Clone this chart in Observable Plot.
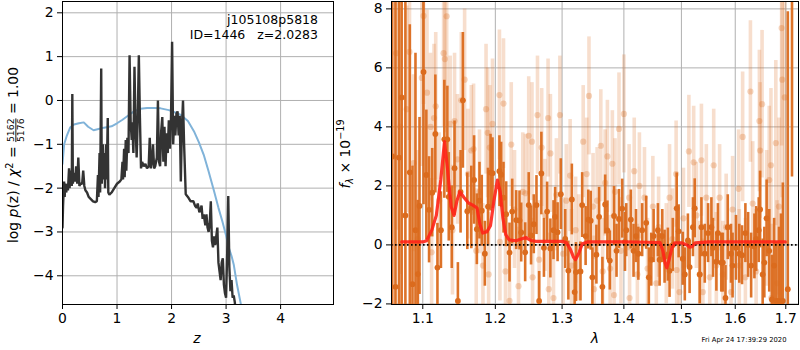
<!DOCTYPE html>
<html><head><meta charset="utf-8">
<script src="https://cdn.jsdelivr.net/npm/d3@7"></script>
<script src="https://cdn.jsdelivr.net/npm/@observablehq/plot@0.6"></script>
<style>
body{margin:0;background:#fff;}
#wrap{position:relative;width:800px;height:350px;background:#fff;font-family:"DejaVu Sans",sans-serif;}
#wrap svg{position:absolute;top:0;overflow:visible;}
</style></head><body><div id="wrap"></div>
<script>
// ---------- Left panel: log p(z) ----------
const zTicks = [0, 1, 2, 3, 4];
const pTicks = [-4, -3, -2, -1, 0, 1, 2];
const pzZ = [0.00,0.01,0.02,0.03,0.04,0.05,0.07,0.08,0.10,0.12,0.13,0.15,0.17,0.18,0.19,0.21,0.23,0.25,0.27,0.29,0.31,0.33,0.36,0.38,0.40,0.42,0.45,0.48,0.52,0.56,0.60,0.63,0.65,0.66,0.68,0.69,0.70,0.71,0.72,0.74,0.75,0.77,0.78,0.80,0.81,0.83,0.84,0.86,0.90,0.95,1.00,1.05,1.08,1.10,1.11,1.13,1.14,1.16,1.17,1.19,1.21,1.23,1.25,1.27,1.28,1.30,1.32,1.34,1.36,1.38,1.40,1.42,1.44,1.46,1.49,1.52,1.55,1.58,1.60,1.62,1.64,1.66,1.68,1.70,1.73,1.75,1.77,1.79,1.81,1.83,1.85,1.87,1.89,1.91,1.93,1.95,1.97,1.99,2.01,2.03,2.05,2.07,2.09,2.11,2.13,2.15,2.17,2.19,2.21,2.23,2.26,2.30,2.35,2.40,2.43,2.46,2.48,2.51,2.53,2.55,2.57,2.59,2.62,2.64,2.66,2.68,2.70,2.72,2.74,2.76,2.78,2.80,2.82,2.84,2.86,2.88,2.90,2.92,2.94,2.96,2.98,3.00,3.02,3.04,3.06,3.08,3.10,3.12,3.14,3.16,3.18];
const pzLogP = [-2.9,-2.4,-2.1,-1.85,-2.2,-1.9,-2.1,-1.9,-2.05,-1.55,-2.0,-1.6,-1.95,0.15,-1.9,-1.65,-1.85,-1.5,-1.9,-1.3,-1.95,-1.9,-1.9,-1.6,-1.95,-2.05,-2.1,-2.2,-2.25,-2.3,-2.32,-2.3,-1.7,-2.2,-1.2,-2.1,-0.7,0.73,-1.9,-1.0,-1.8,-1.2,-2.0,-1.0,-1.8,-0.4,-2.1,-2.15,-2.1,-2.0,-1.9,-1.85,-1.8,-1.4,-1.8,-1.1,-1.75,-0.9,-1.6,-0.85,-1.2,1.03,-0.5,-0.9,-0.5,-1.2,0.77,-0.6,-1.3,-0.4,1.03,-0.4,-1.55,-1.4,-1.5,-1.45,-1.55,-1.5,-0.85,-1.55,-1.4,-1.0,-1.55,-1.5,-1.3,0.0,-1.4,-1.5,-0.7,-0.38,-1.4,-0.6,-1.5,-0.75,-1.2,-0.45,-1.1,-0.4,1.34,-1.0,-0.35,-0.8,-0.3,-0.25,-0.8,-0.35,-1.85,-0.6,0.0,-1.0,-2.14,-2.2,-2.3,-2.3,-2.4,-2.45,-2.35,-2.55,-2.5,-2.4,-2.7,-2.6,-2.85,-2.6,-2.9,-3.0,-2.8,-2.3,-3.2,-3.35,-3.1,-3.3,-3.1,-2.9,-3.7,-3.9,-4.1,-3.7,-3.6,-4.2,-4.4,-4.5,-3.5,-2.18,-3.8,-4.35,-4.1,-4.5,-4.45,-4.6,-4.9];
const priorZ = [0.00,0.03,0.08,0.14,0.21,0.30,0.39,0.47,0.57,0.66,0.76,0.90,1.00,1.10,1.20,1.31,1.43,1.55,1.68,1.80,1.95,2.08,2.17,2.30,2.41,2.50,2.59,2.68,2.78,2.86,2.93,3.00,3.05,3.10,3.14,3.20,3.27];
const priorLogP = [-1.45,-1.0,-0.8,-0.62,-0.55,-0.52,-0.5,-0.6,-0.68,-0.65,-0.62,-0.59,-0.52,-0.44,-0.35,-0.25,-0.19,-0.17,-0.17,-0.18,-0.22,-0.28,-0.33,-0.47,-0.7,-0.95,-1.24,-1.62,-2.07,-2.45,-2.75,-3.08,-3.36,-3.55,-3.74,-4.2,-4.64];

// ---------- Right panel: spectrum ----------
const lamTicks = [1.1, 1.2, 1.3, 1.4, 1.5, 1.6, 1.7];
const fTicks = [-2, 0, 2, 4, 6, 8];
const darkWave = [1.0603,1.0646,1.0691,1.0725,1.0773,1.0830,1.0865,1.0904,1.0934,1.0957,
1.1010,1.1047,1.1083,1.1125,1.1167,1.1195,1.1242,1.1288,1.1329,1.1348,
1.1389,1.1427,1.1473,1.1510,1.1542,1.1603,1.1659,1.1698,1.1737,1.1774,
1.1806,1.1850,1.1895,1.1931,1.1959,1.2059,1.2084,1.2118,1.2157,1.2206,
1.2245,1.2304,1.2353,1.2378,1.2437,1.2490,1.2525,1.2566,1.2607,1.2647,
1.2681,1.2720,1.2769,1.2819,1.2867,1.2892,1.2930,1.2980,1.3049,1.3098,
1.3153,1.3197,1.3218,1.3290,1.3317,1.3372,1.3415,1.3454,1.3481,1.3546,
1.3590,1.3644,1.3689,1.3726,1.3766,1.3836,1.3877,1.3918,1.3972,1.4018,
1.4040,1.4117,1.4163,1.4205,1.4245,1.4310,1.4380,1.4425,1.4467,1.4508,
1.4583,1.4613,1.4660,1.4700,1.4758,1.4788,1.4845,1.4915,1.4950,1.5024,
1.5061,1.5117,1.5148,1.5209,1.5241,1.5333,1.5364,1.5426,1.5487,1.5549,
1.5579,1.5642,1.5671,1.5734,1.5764,1.5814,1.5857,1.5919,1.5949,1.6014,
1.6078,1.6131,1.6196,1.6249,1.6308,1.6372,1.6406,1.6457,1.6484,1.6535,
1.6568,1.6614,1.6666,1.6719,1.6764,1.6809,1.6862,1.6901,1.6940,1.7041,
1.7127];
const darkFlux = [3.0,-1.42,2.96,5.0,1.0,2.46,-1.33,0.5,-0.99,1.32,
5.86,2.37,1.19,1.77,3.76,-0.77,0.5,3.58,3.58,1.63,
0.6,2.6,-1.9,1.8,4.9,1.14,1.27,2.2,0.53,1.5,
1.16,-0.3,1.3,2.45,2.43,2.5,2.38,1.6,1.04,-0.26,
1.13,0.84,0.83,0.42,-0.25,1.35,0.32,0.7,1.35,-1.9,
2.42,-0.1,1.13,-0.12,0.5,0.95,0.43,1.72,0.2,-0.87,
1.54,-1.6,-0.92,-0.9,1.35,0.3,0.86,0.82,-1.1,-0.33,
0.95,-1.42,1.37,0.49,-0.53,0.98,-0.2,0.88,1.23,0.1,
0.5,0.86,-0.2,0.3,-0.3,0.5,0.75,-1.1,-0.5,0.3,
0.5,-0.5,0.3,-0.4,-0.33,-0.88,0.0,1.24,0.46,-0.47,
-1.0,0.15,-0.75,0.6,1.24,-1.0,0.6,-0.3,0.4,0.6,
-0.1,-0.57,0.4,-0.6,-0.6,-1.8,0.6,-0.3,-0.7,-0.1,
-0.3,-0.35,0.4,0.0,-0.7,-0.05,0.2,0.5,1.2,-1.0,
-0.6,0.9,-0.2,-1.85,-0.7,-1.9,-1.9,-1.95,-1.9,-1.5,
14];
const darkErr = [12,10,9,8,9,5,4,6,2.5,3,
4.5,2.2,1.8,1.5,2.0,1.5,1.3,2.0,1.8,1.5,
1.4,1.6,1.3,1.4,2.3,1.3,1.4,1.5,1.2,1.3,
1.2,1.1,1.3,1.3,1.2,1.2,1.1,1.2,1.1,1.0,
1.1,1.0,1.0,1.0,1.0,1.1,1.0,1.0,1.0,1.0,
1.4,1.0,1.0,1.0,1.0,1.0,1.0,1.2,1.0,1.0,
1.2,1.1,1.0,1.0,1.1,1.0,1.0,1.0,1.0,1.0,
1.0,1.0,1.0,1.0,1.0,1.0,0.9,1.0,1.0,1.0,
0.9,1.0,0.9,0.9,0.9,0.9,0.9,1.0,0.9,0.9,
0.9,0.9,0.9,0.9,0.9,0.9,0.9,1.2,0.9,0.9,
0.9,0.9,0.9,1.0,1.0,1.0,1.0,1.0,1.0,1.0,
1.0,1.0,1.0,1.0,1.0,1.1,1.1,1.0,1.1,1.1,
1.0,1.0,1.0,1.1,1.1,1.1,1.1,1.1,1.3,1.2,
1.2,1.3,1.4,1.5,1.6,2.0,2.5,3.0,4.0,9.4,
11.7];
const lightWave = [1.0629,1.0655,1.0708,1.0790,1.0826,1.0878,1.0931,1.0987,1.1010,1.1056,
1.1103,1.1117,1.1149,1.1172,1.1218,1.1278,1.1295,1.1320,1.1367,1.1399,
1.1427,1.1468,1.1520,1.1566,1.1612,1.1659,1.1691,1.1728,1.1774,1.1823,
1.1867,1.1890,1.1904,1.1920,1.1959,1.2059,1.2066,1.2118,1.2147,1.2206,
1.2231,1.2279,1.2338,1.2401,1.2441,1.2490,1.2539,1.2548,1.2622,1.2647,
1.2686,1.2735,1.2783,1.2794,1.2819,1.2867,1.2911,1.2966,1.3016,1.3066,
1.3126,1.3148,1.3213,1.3262,1.3333,1.3389,1.3426,1.3492,1.3508,1.3558,
1.3618,1.3648,1.3689,1.3726,1.3771,1.3808,1.3836,1.3852,1.3918,1.3951,
1.4000,1.4088,1.4096,1.4175,1.4228,1.4263,1.4350,1.4403,1.4495,1.4555,
1.4595,1.4730,1.4788,1.4840,1.4905,1.4915,1.4965,1.5037,1.5135,1.5222,
1.5272,1.5333,1.5364,1.5391,1.5455,1.5518,1.5592,1.5641,1.5703,1.5764,
1.5827,1.5919,1.5949,1.6065,1.6078,1.6143,1.6196,1.6294,1.6339,1.6406,
1.6470,1.6484,1.6523,1.6614,1.6666,1.6700,1.6706,1.6798,1.6823,1.6862,
1.6915,1.6927,1.6980];
const lightFlux = [3.0,6.5,4.0,4.6,6.54,2.77,0.2,5.66,7.76,5.16,
4.0,-0.25,4.3,4.7,1.5,6.5,6.3,7.75,4.1,0.5,
4.2,2.9,4.9,5.6,2.4,3.2,3.25,-0.2,1.8,-0.7,
4.6,3.8,-1.0,3.3,4.1,5.08,0.1,4.79,-0.9,-1.9,
3.4,1.2,-1.4,1.8,1.75,3.7,3.5,-1.1,4.4,-0.5,
3.3,1.0,4.3,-1.5,3.1,-1.8,1.7,4.4,-0.3,1.5,
2.35,-0.7,0.5,-0.1,3.5,2.4,5.05,1.3,-1.5,1.5,
3.36,-0.9,2.1,3.0,-0.8,2.75,-1.7,1.8,3.93,-0.2,
4.44,1.6,-1.8,2.5,-1.0,2.0,1.6,-0.8,1.3,-1.3,
0.6,-0.3,1.6,0.2,2.4,-0.85,-1.6,0.9,3.17,2.8,
1.0,-1.0,2.87,-1.6,1.6,-1.1,2.7,-0.7,1.6,-1.0,
0.6,-1.6,1.2,1.9,-0.7,3.66,-1.1,5.2,1.4,-0.9,
4.2,3.2,4.77,0.9,2.2,2.7,-1.8,3.45,-1.3,1.3,
7.35,5.6,5.0];
const lightErr = [9,6,5,3.5,3,3,3,3,3,2.8,
2.5,2.5,2.5,2.5,2.3,2.5,2.5,2.5,2.3,2.2,
2.3,2.2,2.3,2.4,2.2,2.2,2.2,2.1,2.1,2.1,
2.2,2.2,2.1,2.1,2.2,2.2,2.0,2.2,2.0,2.0,
2.1,2.0,2.0,2.0,2.0,2.0,2.0,2.0,2.0,2.0,
2.0,1.9,2.0,1.9,2.0,1.9,1.9,2.0,1.9,1.9,
1.9,1.9,1.8,1.8,1.9,1.9,2.0,1.8,1.8,1.8,
1.9,1.8,1.8,1.9,1.8,1.8,1.8,1.8,1.9,1.8,
2.0,1.8,1.8,1.8,1.7,1.8,1.7,1.7,1.7,1.7,
1.7,1.7,1.8,1.7,1.8,1.7,1.7,1.7,1.9,1.9,
1.8,1.8,1.9,1.8,1.8,1.8,1.9,1.8,1.8,1.8,
1.8,1.8,1.8,2.0,1.9,2.2,2.0,2.4,2.1,2.1,
2.4,2.3,2.5,2.3,2.5,2.6,2.5,2.8,2.8,3.0,
4,4,5];
const modelWave = [1.0725,1.100,1.105,1.112,1.118,1.124,1.129,1.133,1.138,1.142,1.146,1.150,1.156,1.162,1.168,1.174,1.178,1.182,1.188,1.193,1.198,1.203,1.207,1.211,1.215,1.220,1.230,1.238,1.245,1.252,1.260,1.300,1.307,1.313,1.318,1.321,1.326,1.332,1.340,1.400,1.440,1.462,1.467,1.471,1.474,1.478,1.483,1.488,1.500,1.510,1.515,1.520,1.525,1.550,1.699];
const modelFlux = [0.1,0.1,0.14,0.5,1.0,2.2,3.5,2.6,1.3,1.0,1.5,1.8,1.6,1.42,1.35,1.25,0.7,0.4,0.45,0.65,1.5,2.2,1.8,0.9,0.35,0.17,0.14,0.2,0.25,0.15,0.12,0.12,0.07,-0.15,-0.42,-0.5,-0.3,0.04,0.1,0.1,0.09,0.08,-0.2,-0.62,-0.78,-0.5,-0.1,0.07,0.07,0.0,-0.08,-0.05,0.07,0.1,0.1];

// ---------- build ----------
const font = "DejaVu Sans";
const orange = "#db6b1d";
const grid = {stroke: "#b0b0b0", strokeOpacity: 1, strokeWidth: 1};
const fmtNum = d => (d < 0 ? "\u2212" : "") + Math.abs(d);
const wrap = document.getElementById("wrap");

const pz = pzZ.map((z, i) => ({z, p: pzLogP[i]}));
const prior = priorZ.map((z, i) => ({z, p: priorLogP[i]}));

const left = Plot.plot({
  width: 340, height: 350,
  marginLeft: 62, marginRight: 7, marginTop: 1, marginBottom: 46,
  style: {fontFamily: font, fontSize: "13.9px", color: "black", background: "transparent", overflow: "visible"},
  x: {domain: [0, 4.97]},
  y: {domain: [-4.655, 2.258]},
  marks: [
    Plot.gridX(zTicks, grid),
    Plot.gridY(pTicks, grid),
    Plot.line(prior, {x: "z", y: "p", stroke: "#80b3d9", strokeWidth: 2, clip: true}),
    Plot.line(pz, {x: "z", y: "p", stroke: "#333333", strokeWidth: 2.4, strokeLinejoin: "miter", clip: true}),
    Plot.axisX(zTicks, {tickSize: 5, tickPadding: 4, label: null, tickFormat: fmtNum, fontSize: 13.9}),
    Plot.axisY(pTicks, {tickSize: 5, tickPadding: 4, label: null, tickFormat: fmtNum, fontSize: 13.9}),
    Plot.frame({stroke: "black", strokeWidth: 1})
  ]
});
left.style.left = "0px";
wrap.appendChild(left);

const dark = darkWave.map((w, i) => ({w, f: darkFlux[i], e: darkErr[i]}));
const light = lightWave.map((w, i) => ({w, f: lightFlux[i], e: lightErr[i]}));
const model = modelWave.map((w, i) => ({w, f: modelFlux[i]}));

const right = Plot.plot({
  width: 460, height: 350,
  marginLeft: 51, marginRight: 2, marginTop: 1, marginBottom: 46,
  style: {fontFamily: font, fontSize: "13.9px", color: "black", background: "transparent", overflow: "visible"},
  x: {type: "log", domain: [1.0595, 1.7261]},
  y: {domain: [-2.02, 8.25]},
  marks: [
    Plot.gridX(lamTicks, grid),
    Plot.gridY(fTicks, grid),
    Plot.ruleX(light, {x: "w", y1: d => d.f - d.e, y2: d => d.f + d.e, stroke: orange, strokeOpacity: 0.22, strokeWidth: 3.6, clip: true}),
    Plot.dot(light, {x: "w", y: "f", r: 3.1, fill: orange, fillOpacity: 0.28, stroke: "none", clip: true}),
    Plot.ruleX(dark, {x: "w", y1: d => d.f - d.e, y2: d => d.f + d.e, stroke: orange, strokeOpacity: 0.95, strokeWidth: 2.6, clip: true}),
    Plot.dot(dark, {x: "w", y: "f", r: 2.9, fill: orange, stroke: "none", clip: true}),
    Plot.ruleY([0], {stroke: "black", strokeWidth: 1.6, strokeDasharray: "1.6,2.4", clip: true}),
    Plot.line(model, {x: "w", y: "f", stroke: "#ff2418", strokeOpacity: 0.9, strokeWidth: 3.2, clip: true}),
    Plot.axisX(lamTicks, {tickSize: 5, tickPadding: 4, label: null, tickFormat: d => d.toFixed(1), fontSize: 13.9}),
    Plot.axisY(fTicks, {tickSize: 5, tickPadding: 4, label: null, tickFormat: fmtNum, fontSize: 13.9}),
    Plot.frame({stroke: "black", strokeWidth: 1})
  ]
});
right.style.left = "340px";
wrap.appendChild(right);

// ---------- texts ----------
const ls = d3.select(left);
const annot = ls.append("g").attr("font-family", font).attr("font-size", 12.5).attr("text-anchor", "end").attr("fill", "black");
annot.append("text").attr("x", 318).attr("y", 24).text("j105108p5818");
annot.append("text").attr("x", 318).attr("y", 38.5).text("ID=1446\u00a0\u00a0\u00a0z=2.0283");
ls.append("text").attr("x", 197).attr("y", 343).attr("text-anchor", "middle").attr("font-family", font)
  .attr("font-size", 14).attr("font-style", "italic").text("z");

// rotated y label with stacked fraction (single text element)
const yl = ls.append("text").attr("font-family", font).attr("font-size", 13.9).attr("fill", "black")
  .attr("text-anchor", "middle").attr("transform", "translate(18,155) rotate(-90)");
yl.append("tspan").text("log\u00a0");
yl.append("tspan").attr("font-style", "italic").text("p");
yl.append("tspan").text("(z)\u00a0/\u00a0");
yl.append("tspan").attr("font-style", "italic").text("\u03c7");
yl.append("tspan").attr("font-size", 9.7).attr("dy", -5.5).text("2");
yl.append("tspan").attr("dy", 5.5).text("\u00a0=\u00a0");
yl.append("tspan").attr("font-size", 9.3).attr("dy", -3.6).attr("text-decoration", "underline").text("5162");
yl.append("tspan").attr("font-size", 9.3).attr("dx", -23.7).attr("dy", 9.4).text("5176");
yl.append("tspan").attr("dy", -5.8).text("\u00a0=\u00a01.00");

const rs = d3.select(right);
rs.append("text").attr("x", 255).attr("y", 343).attr("text-anchor", "middle").attr("font-family", font)
  .attr("font-size", 14).attr("font-style", "italic").text("\u03bb");
rs.append("text").attr("x", 404).attr("y", 342).attr("text-anchor", "middle").attr("font-family", font)
  .attr("font-size", 6.8).text("Fri Apr 24 17:39:29 2020");
const yr = rs.append("text").attr("font-family", font).attr("font-size", 13.9).attr("text-anchor", "middle")
  .attr("transform", "translate(9.5,154) rotate(-90)");
yr.append("tspan").attr("font-style", "italic").text("f");
yr.append("tspan").attr("font-style", "italic").attr("font-size", 9.7).attr("dy", 3).text("\u03bb");
yr.append("tspan").attr("dy", -3).text("\u00a0\u00d7\u00a010");
yr.append("tspan").attr("font-size", 9.7).attr("dy", -5.5).text("\u221219");
</script></body></html>
